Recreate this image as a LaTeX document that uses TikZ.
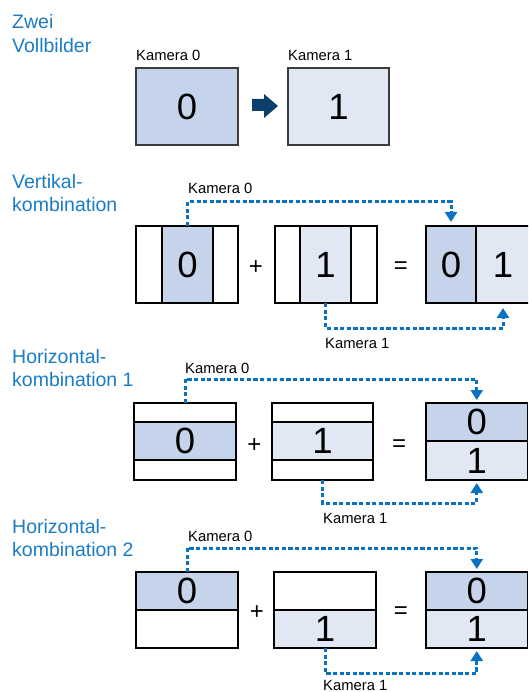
\documentclass[tikz,border=0pt]{standalone}
\usepackage{fontspec}
\setmainfont{Liberation Sans}
\usetikzlibrary{arrows.meta}
\definecolor{dkfill}{HTML}{C6D4EB}
\definecolor{ltfill}{HTML}{E1E8F4}
\definecolor{lnblue}{HTML}{0A72C2}
\definecolor{ttblue}{HTML}{1A7CC6}
\definecolor{navy}{HTML}{0B3F6C}
\definecolor{frgray}{HTML}{3C3C3C}
\begin{document}
\begin{tikzpicture}[x=1pt,y=-1pt,
  cell/.style={draw=black, line width=1.2pt, inner sep=0pt, outer sep=0pt, font=\fontsize{36.5}{40}\selectfont},
  lab/.style={inner sep=0pt, anchor=base west, font=\fontsize{14.8}{17}\selectfont},
  ttl/.style={inner sep=0pt, anchor=base west, text=ttblue, font=\fontsize{19.5}{23}\selectfont},
  op/.style={inner sep=0pt, font=\fontsize{24}{28}\selectfont},
  dotline/.style={draw=lnblue, line width=3pt, dash pattern=on 4.2pt off 2.4pt, -{Triangle[width=12pt,length=10pt]}}]
\useasboundingbox (0,0) rectangle (528,692);
\clip (0,0) rectangle (528,692);

% ---------- titles
\node[ttl] (t1a) at (12,29) {Zwei};
\node[ttl] (t1b) at (12,53) {Vollbilder};
\node[ttl] (t2a) at (12,189) {Vertikal-};
\node[ttl] (t2b) at (12,212) {kombination};
\node[ttl] (t3a) at (12,363) {Horizontal-};
\node[ttl] (t3b) at (12,386) {kombination 1};
\node[ttl] (t4a) at (12,533) {Horizontal-};
\node[ttl] (t4b) at (12,556) {kombination 2};

% ---------- section 1
\node[lab] (s1la) at (136,61) {Kamera 0};
\node[lab] (s1lb) at (288,61) {Kamera 1};
\node[cell, draw=frgray, fill=dkfill, minimum width=102, minimum height=77] (s1a) at (187,106.5) {0};
\node[cell, draw=frgray, fill=ltfill, minimum width=101, minimum height=77] (s1b) at (338.5,106.5) {1};
\fill[navy] (252,99) -- (264,99) -- (264,94) -- (278,106) -- (264,118) -- (264,111) -- (252,111) -- cycle;

% ---------- section 2
\node[cell, minimum width=26, minimum height=77] (s2a1) at (149,264.5) {};
\node[cell, fill=dkfill, minimum width=51, minimum height=77] (s2a2) at (187.5,264.5) {0};
\node[cell, minimum width=25, minimum height=77] (s2a3) at (225.5,264.5) {};
\node[cell, minimum width=25, minimum height=77] (s2b1) at (287.5,264.5) {};
\node[cell, fill=ltfill, minimum width=51, minimum height=77] (s2b2) at (325.5,264.5) {1};
\node[cell, minimum width=26, minimum height=77] (s2b3) at (364,264.5) {};
\node[cell, fill=dkfill, minimum width=50, minimum height=77] (s2c1) at (451,264.5) {0};
\node[cell, fill=ltfill, minimum width=54, minimum height=77] (s2c2) at (503,264.5) {1};
\node[op] (s2p) at (256,268) {+};
\node[op] (s2e) at (401,268) {=};
\coordinate (s2k0) at (0,202);
\coordinate (s2k1) at (0,328);
\draw[dotline, shorten >=4pt] (s2a2.north) -- (s2a2.north |- s2k0) -| (s2c1.north);
\draw[dotline, shorten >=5pt] (s2b2.south) -- (s2b2.south |- s2k1) -| (s2c2.south);
\node[lab] (s2l0) at (188,194) {Kamera 0};
\node[lab] (s2l1) at (325,348) {Kamera 1};

% ---------- section 3
\node[cell, minimum width=102, minimum height=19] (s3a1) at (185,412.5) {};
\node[cell, fill=dkfill, minimum width=102, minimum height=38] (s3a2) at (185,441) {0};
\node[cell, minimum width=102, minimum height=20] (s3a3) at (185,470) {};
\node[cell, minimum width=101, minimum height=19] (s3b1) at (322.5,412.5) {};
\node[cell, fill=ltfill, minimum width=101, minimum height=38] (s3b2) at (322.5,441) {1};
\node[cell, minimum width=101, minimum height=20] (s3b3) at (322.5,470) {};
\node[cell, fill=dkfill, minimum width=101.5, minimum height=38] (s3c1) at (476.75,422) {0};
\node[cell, fill=ltfill, minimum width=101.5, minimum height=39] (s3c2) at (476.75,460.5) {1};
\node[op] (s3p) at (254.5,446) {+};
\node[op] (s3e) at (399,446) {=};
\coordinate (s3k0) at (0,379);
\coordinate (s3k1) at (0,503);
\draw[dotline, shorten >=3pt] (s3a1.north) -- (s3a1.north |- s3k0) -| (s3c1.north);
\draw[dotline, shorten >=3pt] (s3b3.south) -- (s3b3.south |- s3k1) -| (s3c2.south);
\node[lab] (s3l0) at (185,373) {Kamera 0};
\node[lab] (s3l1) at (323,523) {Kamera 1};

% ---------- section 4
\node[cell, fill=dkfill, minimum width=102, minimum height=38] (s4a1) at (187,591) {0};
\node[cell, minimum width=102, minimum height=38] (s4a2) at (187,629) {};
\node[cell, minimum width=102, minimum height=38] (s4b1) at (325,591) {};
\node[cell, fill=ltfill, minimum width=102, minimum height=38] (s4b2) at (325,629) {1};
\node[cell, fill=dkfill, minimum width=101.5, minimum height=38] (s4c1) at (476.75,591) {0};
\node[cell, fill=ltfill, minimum width=101.5, minimum height=38] (s4c2) at (476.75,629) {1};
\node[op] (s4p) at (257,613) {+};
\node[op] (s4e) at (401,613) {=};
\coordinate (s4k0) at (0,548);
\coordinate (s4k1) at (0,673);
\draw[dotline, shorten >=3pt] (s4a1.north) -- (s4a1.north |- s4k0) -| (s4c1.north);
\draw[dotline, shorten >=3pt] (s4b2.south) -- (s4b2.south |- s4k1) -| (s4c2.south);
\node[lab] (s4l0) at (188,541) {Kamera 0};
\node[lab] (s4l1) at (323,690) {Kamera 1};
\end{tikzpicture}
\end{document}
